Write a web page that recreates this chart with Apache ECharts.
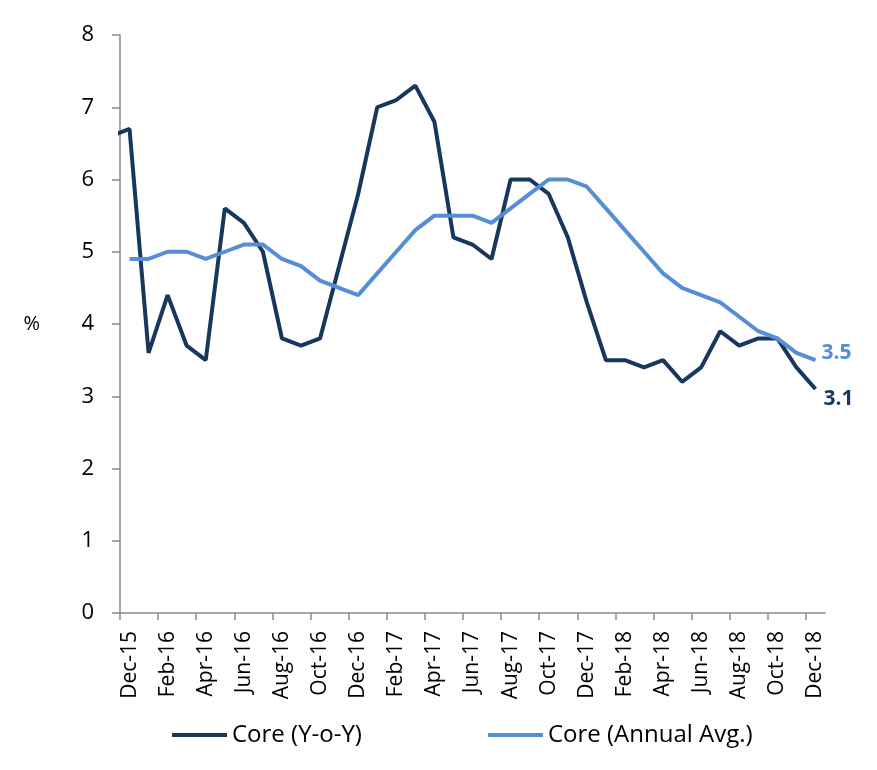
<!DOCTYPE html>
<html>
<head>
<meta charset="utf-8">
<title>Core inflation</title>
<script src="https://cdn.jsdelivr.net/npm/echarts@6/dist/echarts.min.js"></script>
<style>
  html, body { margin: 0; padding: 0; background: #fff; }
  #chart { width: 877px; height: 770px; }
</style>
</head>
<body>
<div id="chart"></div>
<script>
// 月份 (Nov-15 只用来画左边被裁掉的那一小段线)
var months = [
    'Nov-15', 'Dec-15',
    'Jan-16', 'Feb-16', 'Mar-16', 'Apr-16', 'May-16', 'Jun-16',
    'Jul-16', 'Aug-16', 'Sep-16', 'Oct-16', 'Nov-16', 'Dec-16',
    'Jan-17', 'Feb-17', 'Mar-17', 'Apr-17', 'May-17', 'Jun-17',
    'Jul-17', 'Aug-17', 'Sep-17', 'Oct-17', 'Nov-17', 'Dec-17',
    'Jan-18', 'Feb-18', 'Mar-18', 'Apr-18', 'May-18', 'Jun-18',
    'Jul-18', 'Aug-18', 'Sep-18', 'Oct-18', 'Nov-18', 'Dec-18'
];

// Core (Y-o-Y)
var coreYoY = [
    6.6, 6.7,
    3.6, 4.4, 3.7, 3.5, 5.6, 5.4, 5.0, 3.8, 3.7, 3.8, 4.8, 5.8,
    7.0, 7.1, 7.3, 6.8, 5.2, 5.1, 4.9, 6.0, 6.0, 5.8, 5.2, 4.3,
    3.5, 3.5, 3.4, 3.5, 3.2, 3.4, 3.9, 3.7, 3.8, 3.8, 3.4, 3.1
];

// Core (Annual Avg.)
var coreAvg = [
    null, 4.9,
    4.9, 5.0, 5.0, 4.9, 5.0, 5.1, 5.1, 4.9, 4.8, 4.6, 4.5, 4.4,
    4.7, 5.0, 5.3, 5.5, 5.5, 5.5, 5.4, 5.6, 5.8, 6.0, 6.0, 5.9,
    5.6, 5.3, 5.0, 4.7, 4.5, 4.4, 4.3, 4.1, 3.9, 3.8, 3.6, 3.5
];

var yTicks = [0, 1, 2, 3, 4, 5, 6, 7, 8];

var darkBlue = '#17375E';
var lightBlue = '#558ED5';
var axisGrey = '#8a8a8a';

// x 用序号, Dec-15 = 0
function toPairs(arr) {
    var out = [];
    for (let i = 0; i < arr.length; i++) {
        if (arr[i] !== null) out.push([i - 1, arr[i]]);
    }
    return out;
}

// 标签每两个月一个, 刻度在两个标签中间
var labelPos = [];
var tickPos = [];
for (let i = 0; i < months.length - 1; i += 2) {
    labelPos.push(i);
    tickPos.push(i - 0.5);
}

var myChart = echarts.init(document.getElementById('chart'));

var option = {
    animation: false,
    backgroundColor: '#fff',
    grid: {
        left: 120,
        right: 52,
        top: 35,
        bottom: 157,
        outerBoundsMode: 'none'
    },
    legend: {
        left: 167,
        top: 718,
        icon: 'rect',
        itemWidth: 55,
        itemHeight: 4,
        itemGap: 126,
        textStyle: { fontFamily: 'Open Sans', fontSize: 24, color: '#000' },
        data: ['Core (Y-o-Y)', 'Core (Annual Avg.)']
    },
    xAxis: {
        type: 'value',
        min: -0.5,
        max: months.length - 1.5,
        splitLine: { show: false },
        axisLine: { show: true, onZero: false, lineStyle: { color: axisGrey, width: 1.5 } },
        axisTick: {
            show: true,
            length: 7,
            customValues: tickPos,
            lineStyle: { color: axisGrey, width: 1.5 }
        },
        axisLabel: {
            customValues: labelPos,
            rotate: 90,
            margin: 18,
            fontFamily: 'Open Sans',
            fontSize: 21,
            color: '#000',
            formatter: function (v) {
                return months[Math.round(v) + 1];
            }
        }
    },
    yAxis: {
        type: 'value',
        min: yTicks[0],
        max: yTicks[yTicks.length - 1],
        interval: 1,
        name: '%',
        nameLocation: 'middle',
        nameRotate: 0,
        nameGap: 80,
        nameTextStyle: { fontFamily: 'Open Sans', fontSize: 20, color: '#000' },
        splitLine: { show: false },
        axisLine: { show: true, onZero: false, lineStyle: { color: axisGrey, width: 1.5 } },
        axisTick: { show: true, length: 8, lineStyle: { color: axisGrey, width: 1.5 } },
        axisLabel: {
            margin: 26,
            fontFamily: 'Open Sans',
            fontSize: 22,
            color: '#000'
        }
    },
    series: [
        {
            name: 'Core (Y-o-Y)',
            type: 'line',
            data: toPairs(coreYoY),
            symbol: 'none',
            clip: true,
            lineStyle: { width: 4, color: darkBlue },
            itemStyle: { color: darkBlue },
            endLabel: {
                show: true,
                offset: [0, 10],
                fontFamily: 'Open Sans',
                fontSize: 21,
                fontWeight: 'bold',
                color: darkBlue,
                formatter: function (p) { return p.value[1].toFixed(1); }
            }
        },
        {
            name: 'Core (Annual Avg.)',
            type: 'line',
            data: toPairs(coreAvg),
            symbol: 'none',
            clip: true,
            lineStyle: { width: 4, color: lightBlue },
            itemStyle: { color: lightBlue },
            endLabel: {
                show: true,
                offset: [-2, -7],
                fontFamily: 'Open Sans',
                fontSize: 21,
                fontWeight: 'bold',
                color: lightBlue,
                formatter: function (p) { return p.value[1].toFixed(1); }
            }
        }
    ]
};

myChart.setOption(option);
</script>
</body>
</html>
